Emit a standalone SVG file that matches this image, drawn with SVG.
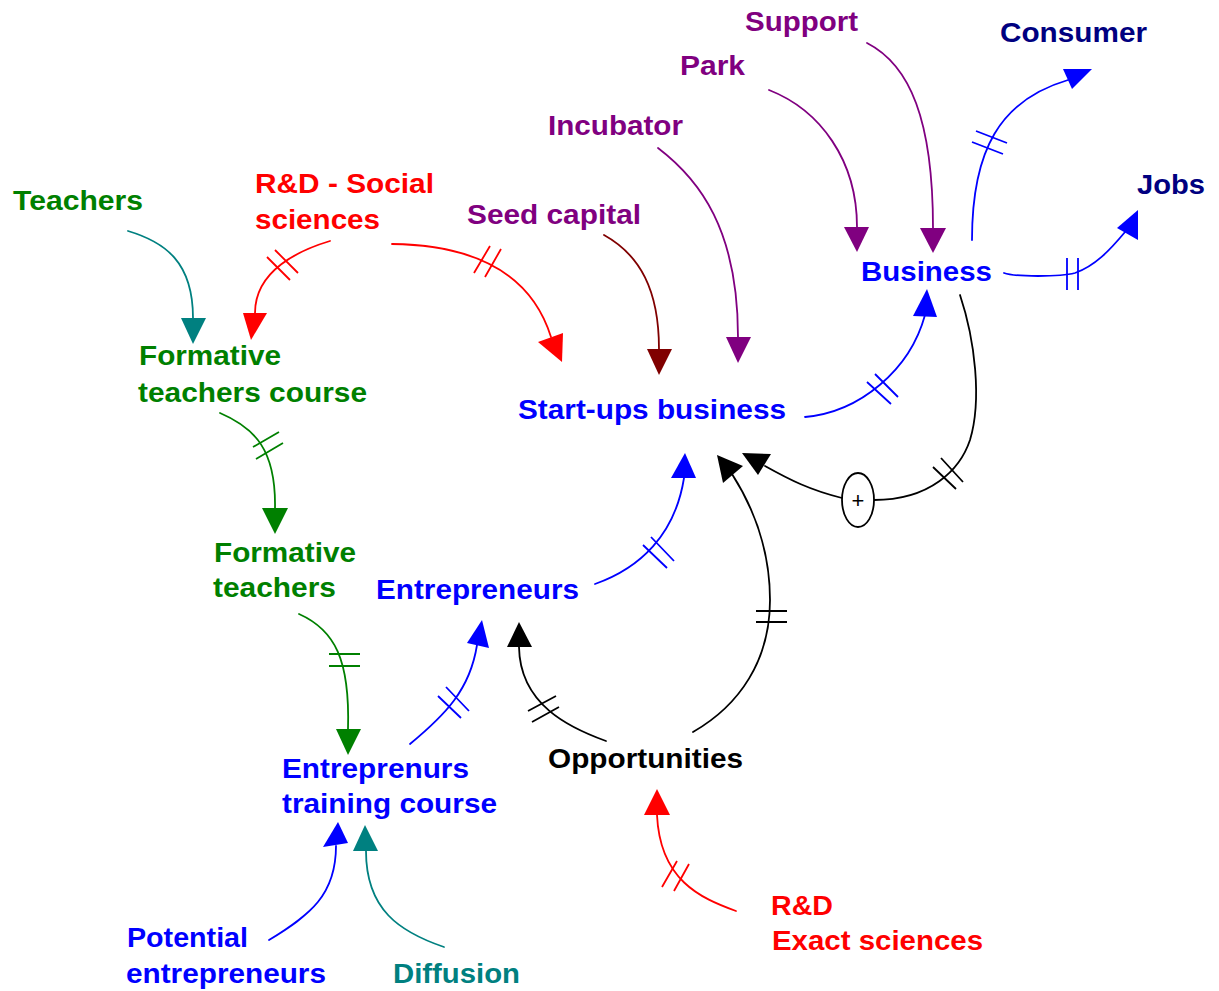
<svg xmlns="http://www.w3.org/2000/svg" width="1219" height="991" viewBox="0 0 1219 991">
<style>
text{font-family:"Liberation Sans",Arial,sans-serif;font-weight:bold;font-size:27px}
.ln{fill:none;stroke-width:1.8;stroke-linejoin:round;stroke-linecap:round}
.hs{fill:none;stroke-width:1.8}
.green{fill:#008000}.red{fill:#FF0000}.purple{fill:#800080}.blue{fill:#0000FF}.navy{fill:#000080}.teal{fill:#008080}.black{fill:#000}.dred{fill:#800000}
.sgreen{stroke:#008000}.sred{stroke:#FF0000}.spurple{stroke:#800080}.sblue{stroke:#0000FF}.steal{stroke:#008080}.sblack{stroke:#000}.sdred{stroke:#800000}
</style>
<rect width="1219" height="991" fill="#fff"/>
<g id="connectors">
  <!-- Teachers -> Formative teachers course -->
  <path class="ln steal" d="M128,231 C165,242 193,262 193,318"/>
  <polygon class="teal" points="181,318 206,318 193,344"/>
  <!-- R&D Social -> Formative teachers course -->
  <path class="ln sred" d="M330,241 C300,250 255,270 255,313"/>
  <polygon class="red" points="243,313 267,313 251,340"/>
  <path class="hs sred" d="M267,257 L290,280 M275,250 L298,273"/>
  <!-- R&D Social -> Start-ups -->
  <path class="ln sred" d="M392,244 C470,245 530,270 551,337"/>
  <polygon class="red" points="538,342 563,333 562,362"/>
  <path class="hs sred" d="M474,273 L490,246 M485,277 L501,249"/>
  <!-- Seed capital -> Start-ups -->
  <path class="ln sdred" d="M604,235 C640,255 659,290 659,349"/>
  <polygon class="dred" points="647,349 672,349 659,375"/>
  <!-- Incubator -> Start-ups -->
  <path class="ln spurple" d="M658,148 C700,180 738,230 738,337"/>
  <polygon class="purple" points="726,337 751,337 738,363"/>
  <!-- Park -> Business -->
  <path class="ln spurple" d="M769,90 C820,110 857,160 857,227"/>
  <polygon class="purple" points="844,227 869,227 857,252"/>
  <!-- Support -> Business -->
  <path class="ln spurple" d="M867,43 C910,65 933,120 933,228"/>
  <polygon class="purple" points="920,228 946,228 933,253"/>
  <!-- Business -> Consumer -->
  <path class="ln sblue" d="M972,240 C972,150 1000,100 1068,80"/>
  <polygon class="blue" points="1063,69 1092,69 1072,89"/>
  <path class="hs sblue" d="M972,142 L1003,154 M976,131 L1007,143"/>
  <!-- Business -> Jobs -->
  <path class="ln sblue" d="M1004,273 C1015,277 1060,277 1075,273 C1095,266 1110,250 1125,232"/>
  <polygon class="blue" points="1117,228 1138,210 1138,240"/>
  <path class="hs sblue" d="M1067,258 L1067,290 M1078,258 L1078,290"/>
  <!-- Start-ups -> Business -->
  <path class="ln sblue" d="M805,417 C860,412 910,370 925,315"/>
  <polygon class="blue" points="913,316 937,317 927,289"/>
  <path class="hs sblue" d="M867,382 L891,404 M875,374 L898,397"/>
  <!-- Business -> (+) -> Start-ups -->
  <path class="ln sblack" d="M960,295 C975,340 982,400 970,440 C960,470 930,500 874,500"/>
  <path class="hs sblack" d="M933,467 L956,489 M941,458 L963,482"/>
  <path class="ln sblack" d="M842,498 C810,490 790,480 765,466"/>
  <polygon class="black" points="742,453 771,454 758,475"/>
  <!-- Opportunities -> Start-ups -->
  <path class="ln sblack" d="M693,732 C740,705 770,660 770,600 C770,550 755,510 732,474"/>
  <polygon class="black" points="717,455 743,466 723,483"/>
  <path class="hs sblack" d="M756,611 L787,611 M756,622 L787,622"/>
  <!-- Formative teachers course -> Formative teachers -->
  <path class="ln sgreen" d="M220,413 C255,428 276,450 275,508"/>
  <polygon class="green" points="262,508 288,508 275,534"/>
  <path class="hs sgreen" d="M253,447 L279,432 M256,459 L283,443"/>
  <!-- Formative teachers -> Entreprenurs training course -->
  <path class="ln sgreen" d="M299,614 C335,630 350,660 348,729"/>
  <polygon class="green" points="336,729 361,729 348,755"/>
  <path class="hs sgreen" d="M329,654 L360,654 M329,666 L360,666"/>
  <!-- Entreprenurs training course -> Entrepreneurs -->
  <path class="ln sblue" d="M410,744 C445,715 470,690 477,645"/>
  <polygon class="blue" points="467,643 489,648 482,620"/>
  <path class="hs sblue" d="M438,696 L461,718 M446,687 L469,711"/>
  <!-- Opportunities -> Entrepreneurs -->
  <path class="ln sblack" d="M606,741 C570,728 520,705 519,647"/>
  <polygon class="black" points="507,647 532,647 519,622"/>
  <path class="hs sblack" d="M528,711 L556,696 M532,722 L559,707"/>
  <!-- Entrepreneurs -> Start-ups -->
  <path class="ln sblue" d="M595,584 C640,568 675,535 684,478"/>
  <polygon class="blue" points="671,478 696,478 685,453"/>
  <path class="hs sblue" d="M643,545 L667,568 M651,537 L674,561"/>
  <!-- R&D Exact -> Opportunities -->
  <path class="ln sred" d="M736,911 C700,898 660,880 657,815"/>
  <polygon class="red" points="644,815 670,815 657,789"/>
  <path class="hs sred" d="M662,887 L677,861 M674,891 L689,864"/>
  <!-- Potential entrepreneurs -> Entreprenurs training course -->
  <path class="ln sblue" d="M269,940 C310,915 336,895 336,846"/>
  <polygon class="blue" points="323,847 348,843 338,822"/>
  <!-- Diffusion -> Entreprenurs training course -->
  <path class="ln steal" d="M444,947 C400,932 366,910 366,851"/>
  <polygon class="teal" points="353,851 378,851 365,825"/>
</g>
<g id="plus">
  <ellipse cx="858" cy="500" rx="16" ry="27" fill="#fff" stroke="#000" stroke-width="1.8"/>
  <text x="858" y="508" text-anchor="middle" style="font-size:22px;font-weight:normal" class="black">+</text>
</g>
<g id="teachers"><text x="13" y="210" class="green" textLength="130" lengthAdjust="spacingAndGlyphs">Teachers</text></g>
<g id="rd-social"><text x="255" y="193" class="red" textLength="179" lengthAdjust="spacingAndGlyphs">R&amp;D - Social</text><text x="255" y="229" class="red" textLength="125" lengthAdjust="spacingAndGlyphs">sciences</text></g>
<g id="formative-teachers-course"><text x="139" y="365" class="green" textLength="142" lengthAdjust="spacingAndGlyphs">Formative</text><text x="138" y="402" class="green" textLength="229" lengthAdjust="spacingAndGlyphs">teachers course</text></g>
<g id="seed-capital"><text x="467" y="224" class="purple" textLength="174" lengthAdjust="spacingAndGlyphs">Seed capital</text></g>
<g id="incubator"><text x="548" y="135" class="purple" textLength="135" lengthAdjust="spacingAndGlyphs">Incubator</text></g>
<g id="park"><text x="680" y="75" class="purple" textLength="65" lengthAdjust="spacingAndGlyphs">Park</text></g>
<g id="support"><text x="745" y="31" class="purple" textLength="113" lengthAdjust="spacingAndGlyphs">Support</text></g>
<g id="consumer"><text x="1000" y="42" class="navy" textLength="147" lengthAdjust="spacingAndGlyphs">Consumer</text></g>
<g id="jobs"><text x="1137" y="194" class="navy" textLength="68" lengthAdjust="spacingAndGlyphs">Jobs</text></g>
<g id="business"><text x="861" y="281" class="blue" textLength="131" lengthAdjust="spacingAndGlyphs">Business</text></g>
<g id="startups"><text x="518" y="419" class="blue" textLength="268" lengthAdjust="spacingAndGlyphs">Start-ups business</text></g>
<g id="formative-teachers"><text x="214" y="562" class="green" textLength="142" lengthAdjust="spacingAndGlyphs">Formative</text><text x="213" y="597" class="green" textLength="123" lengthAdjust="spacingAndGlyphs">teachers</text></g>
<g id="entrepreneurs"><text x="376" y="599" class="blue" textLength="203" lengthAdjust="spacingAndGlyphs">Entrepreneurs</text></g>
<g id="opportunities"><text x="548" y="768" class="black" textLength="195" lengthAdjust="spacingAndGlyphs">Opportunities</text></g>
<g id="training-course"><text x="282" y="778" class="blue" textLength="187" lengthAdjust="spacingAndGlyphs">Entreprenurs</text><text x="282" y="813" class="blue" textLength="215" lengthAdjust="spacingAndGlyphs">training course</text></g>
<g id="potential"><text x="127" y="947" class="blue" textLength="121" lengthAdjust="spacingAndGlyphs">Potential</text><text x="126" y="983" class="blue" textLength="200" lengthAdjust="spacingAndGlyphs">entrepreneurs</text></g>
<g id="diffusion"><text x="393" y="983" class="teal" textLength="127" lengthAdjust="spacingAndGlyphs">Diffusion</text></g>
<g id="rd-exact"><text x="771" y="915" class="red" textLength="62" lengthAdjust="spacingAndGlyphs">R&amp;D</text><text x="772" y="950" class="red" textLength="211" lengthAdjust="spacingAndGlyphs">Exact sciences</text></g>
</svg>
